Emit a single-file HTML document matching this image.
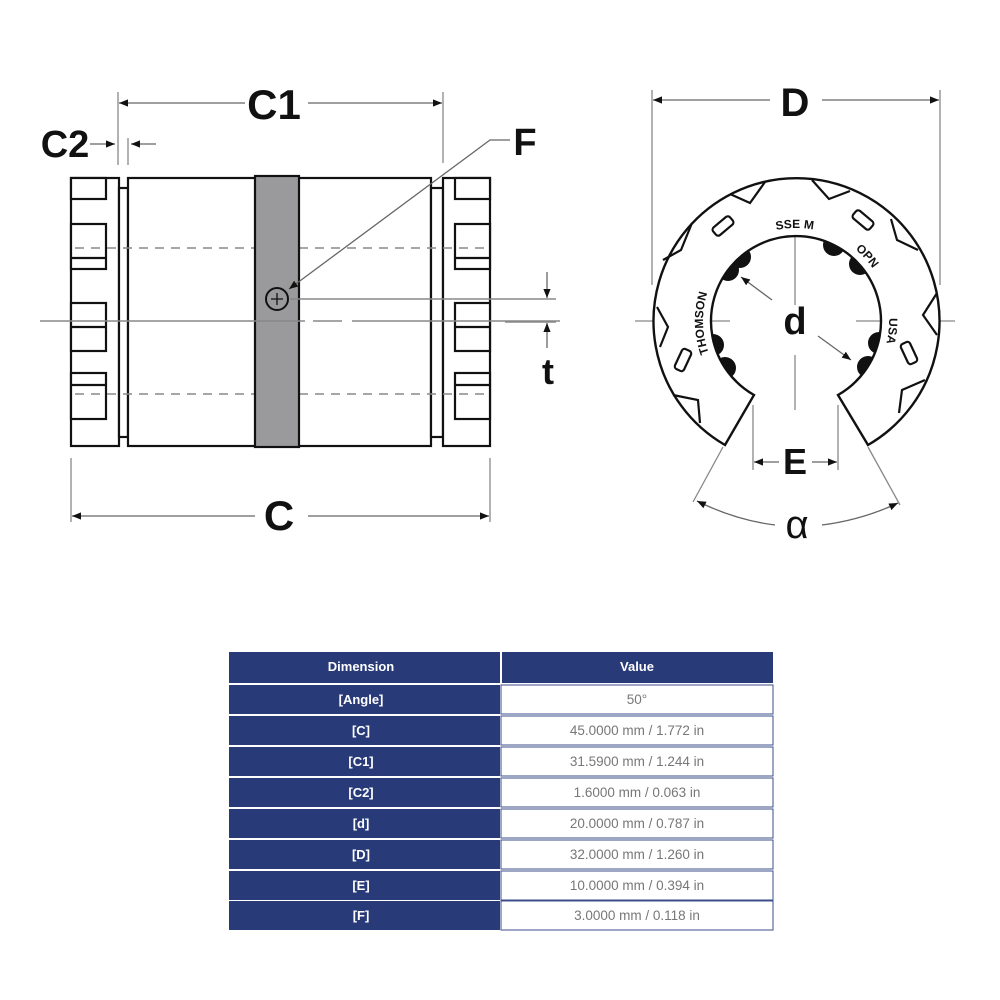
<!DOCTYPE html>
<html><head><meta charset="utf-8"><style>
html,body{margin:0;padding:0;background:#fff;}
svg{display:block}
.lbl{font-family:"Liberation Sans Narrow","Liberation Sans",sans-serif;font-weight:bold;fill:#111;}
.th{font-family:"Liberation Sans",sans-serif;font-size:13px;font-weight:bold;fill:#fff;text-anchor:middle}
.tv{font-family:"Liberation Sans",sans-serif;font-size:13.5px;fill:#777;text-anchor:middle}
</style></head><body>
<svg width="1000" height="1000" viewBox="0 0 1000 1000" xmlns="http://www.w3.org/2000/svg">
<defs>
<marker id="ar" viewBox="0 0 10 10" refX="10" refY="5" markerWidth="9" markerHeight="9" markerUnits="userSpaceOnUse" orient="auto"><path d="M0,1 L10,5 L0,9 Z" fill="#111"/></marker>
<clipPath id="bore"><circle cx="796" cy="321" r="85"/></clipPath>
<path id="tp" d="M796,414 A93,93 0 1 1 796.1,414"/>
</defs>

<!-- LEFT VIEW -->
<g stroke="#111" stroke-width="2.2" fill="#fff">
<rect x="71" y="178" width="48" height="268"/>
<rect x="119" y="188" width="9" height="249"/>
<rect x="128" y="178" width="303" height="268"/>
<rect x="431" y="188" width="12" height="249"/>
<rect x="443" y="178" width="47" height="268"/>
<rect x="71" y="178" width="35" height="21"/>
<rect x="71" y="224" width="35" height="45"/>
<rect x="71" y="303" width="35" height="48"/>
<rect x="71" y="373" width="35" height="46"/>
<line x1="71" y1="258" x2="106" y2="258"/>
<line x1="71" y1="327" x2="106" y2="327"/>
<line x1="71" y1="385" x2="106" y2="385"/>
<rect x="455" y="178" width="35" height="21"/>
<rect x="455" y="224" width="35" height="45"/>
<rect x="455" y="303" width="35" height="48"/>
<rect x="455" y="373" width="35" height="46"/>
<line x1="455" y1="258" x2="490" y2="258"/>
<line x1="455" y1="327" x2="490" y2="327"/>
<line x1="455" y1="385" x2="490" y2="385"/>
</g>
<g stroke="#888" stroke-width="1.5" stroke-dasharray="9,7" fill="none">
<line x1="75" y1="248" x2="488" y2="248"/>
<line x1="75" y1="394" x2="488" y2="394"/>
</g>
<rect x="255" y="176" width="44" height="271" fill="#9a9a9c" stroke="#111" stroke-width="2.2"/>
<line x1="40" y1="321" x2="305" y2="321" stroke="#888" stroke-width="1.5"/>
<line x1="313" y1="321" x2="342" y2="321" stroke="#888" stroke-width="1.5"/>
<line x1="352" y1="321" x2="560" y2="321" stroke="#888" stroke-width="1.5"/>
<circle cx="277" cy="299" r="11" fill="none" stroke="#111" stroke-width="2"/>
<path d="M271,299 H283 M277,293 V305" stroke="#111" stroke-width="1.3"/>
<polyline points="510,140 490,140 289,289" fill="none" stroke="#666" stroke-width="1.3" marker-end="url(#ar)"/>
<text class="lbl" x="525" y="155" font-size="38" text-anchor="middle">F</text>
<g stroke="#888" stroke-width="1.5"><line x1="290" y1="299" x2="556" y2="299"/><line x1="505" y1="322" x2="556" y2="322"/></g>
<line x1="547" y1="272" x2="547" y2="298" stroke="#666" stroke-width="1.3" marker-end="url(#ar)"/>
<line x1="547" y1="348" x2="547" y2="323" stroke="#666" stroke-width="1.3" marker-end="url(#ar)"/>
<text class="lbl" x="548" y="384" font-size="36" text-anchor="middle">t</text>
<g stroke="#888" stroke-width="1.3"><line x1="118" y1="92" x2="118" y2="165"/><line x1="443" y1="92" x2="443" y2="163"/><line x1="128" y1="138" x2="128" y2="165"/>
<line x1="71" y1="458" x2="71" y2="522"/><line x1="490" y1="458" x2="490" y2="522"/></g>
<line x1="245" y1="103" x2="119" y2="103" stroke="#666" stroke-width="1.3" marker-end="url(#ar)"/>
<line x1="308" y1="103" x2="442" y2="103" stroke="#666" stroke-width="1.3" marker-end="url(#ar)"/>
<text class="lbl" x="274" y="119" font-size="42" text-anchor="middle">C1</text>
<line x1="90" y1="144" x2="115" y2="144" stroke="#666" stroke-width="1.3" marker-end="url(#ar)"/>
<line x1="156" y1="144" x2="131" y2="144" stroke="#666" stroke-width="1.3" marker-end="url(#ar)"/>
<text class="lbl" x="65" y="157" font-size="38" text-anchor="middle">C2</text>
<line x1="255" y1="516" x2="72" y2="516" stroke="#666" stroke-width="1.3" marker-end="url(#ar)"/>
<line x1="308" y1="516" x2="489" y2="516" stroke="#666" stroke-width="1.3" marker-end="url(#ar)"/>
<text class="lbl" x="279" y="530" font-size="42" text-anchor="middle">C</text>

<!-- RIGHT VIEW -->
<g stroke="#888" stroke-width="1.3">
<line x1="652" y1="90" x2="652" y2="285"/><line x1="940" y1="90" x2="940" y2="285"/>
<line x1="635" y1="321" x2="730" y2="321"/><line x1="856" y1="321" x2="955" y2="321"/>
<line x1="795" y1="225" x2="795" y2="305"/><line x1="795" y1="355" x2="795" y2="410"/>
<line x1="753" y1="405" x2="753" y2="470"/><line x1="838" y1="405" x2="838" y2="470"/>
<line x1="723" y1="447" x2="693" y2="502"/><line x1="868" y1="447" x2="900" y2="505"/>
</g>
<line x1="770" y1="100" x2="653" y2="100" stroke="#666" stroke-width="1.3" marker-end="url(#ar)"/>
<line x1="822" y1="100" x2="939" y2="100" stroke="#666" stroke-width="1.3" marker-end="url(#ar)"/>
<text class="lbl" x="795" y="116" font-size="40" text-anchor="middle">D</text>
<path d="M775,525 Q735,520 697,501" fill="none" stroke="#666" stroke-width="1.3" marker-end="url(#ar)"/>
<path d="M822,525 Q862,520 898,503" fill="none" stroke="#666" stroke-width="1.3" marker-end="url(#ar)"/>
<text x="797" y="538" font-family="Liberation Sans,sans-serif" font-size="40" text-anchor="middle" fill="#111">α</text>
<line x1="779" y1="462" x2="754" y2="462" stroke="#666" stroke-width="1.3" marker-end="url(#ar)"/>
<line x1="812" y1="462" x2="837" y2="462" stroke="#666" stroke-width="1.3" marker-end="url(#ar)"/>
<text class="lbl" x="795" y="474" font-size="36" text-anchor="middle">E</text>

<path d="M725,445 A143,143 0 1 1 868,445 L838,395 A85,85 0 1 0 754,395 Z" fill="#fff" stroke="#111" stroke-width="2.4"/>
<g clip-path="url(#bore)" fill="#111">
<circle cx="740" cy="257" r="11"/><circle cx="728" cy="270" r="11"/>
<circle cx="713" cy="345" r="11"/><circle cx="725" cy="368" r="11"/>
<circle cx="834" cy="245" r="11"/><circle cx="860" cy="264" r="11"/>
<circle cx="879" cy="343" r="11"/><circle cx="868" cy="367" r="11"/>
</g>
<g fill="none" stroke="#111" stroke-width="2.2">
<polyline points="765,182 750,203 730,194"/>
<polyline points="812,180 829,199 850,191"/>
<polyline points="891,219 897,240 918,250"/>
<polyline points="937,293 923,315 937,335"/>
<polyline points="925,380 902,390 899,413"/>
<polyline points="692,223 681,250 663,260"/>
<polyline points="657,307 668,327 660,347"/>
<polyline points="673,395 698,400 700,423"/>
<rect x="712" y="221" width="22" height="10" rx="3" transform="rotate(-40 723 226)"/>
<rect x="852" y="215" width="22" height="10" rx="3" transform="rotate(40 863 220)"/>
<rect x="672" y="355" width="22" height="10" rx="3" transform="rotate(-65 683 360)"/>
<rect x="898" y="348" width="22" height="10" rx="3" transform="rotate(65 909 353)"/>
</g>
<text font-family="Liberation Sans,sans-serif" font-weight="bold" font-size="12" fill="#111"><textPath href="#tp" startOffset="113">THOMSON</textPath></text>
<text font-family="Liberation Sans,sans-serif" font-weight="bold" font-size="12" fill="#111"><textPath href="#tp" startOffset="272">SSE M</textPath></text>
<text font-family="Liberation Sans,sans-serif" font-weight="bold" font-size="12" fill="#111"><textPath href="#tp" startOffset="356">OPN</textPath></text>
<text font-family="Liberation Sans,sans-serif" font-weight="bold" font-size="12" fill="#111"><textPath href="#tp" startOffset="435">USA</textPath></text>
<line x1="772" y1="300" x2="741" y2="277" stroke="#666" stroke-width="1.3" marker-end="url(#ar)"/>
<line x1="818" y1="336" x2="851" y2="360" stroke="#666" stroke-width="1.3" marker-end="url(#ar)"/>
<text class="lbl" x="795" y="334" font-size="38" text-anchor="middle">d</text>

<!-- TABLE -->
<rect x="229" y="652" width="271" height="31" fill="#283a78"/>
<rect x="502" y="652" width="271" height="31" fill="#283a78"/>
<text class="th" x="361" y="671">Dimension</text>
<text class="th" x="637" y="671">Value</text>
<g font-family="Liberation Sans,sans-serif">
<rect x="229" y="685" width="271" height="29" fill="#283a78"/><rect x="501" y="685" width="272" height="29" fill="#fff" stroke="#3b4d88" stroke-width="1"/>
<text class="th" x="361" y="704">[Angle]</text><text class="tv" x="637" y="704">50°</text>
<rect x="229" y="716" width="271" height="29" fill="#283a78"/><rect x="501" y="716" width="272" height="29" fill="#fff" stroke="#3b4d88" stroke-width="1"/>
<text class="th" x="361" y="735">[C]</text><text class="tv" x="637" y="735">45.0000 mm / 1.772 in</text>
<rect x="229" y="747" width="271" height="29" fill="#283a78"/><rect x="501" y="747" width="272" height="29" fill="#fff" stroke="#3b4d88" stroke-width="1"/>
<text class="th" x="361" y="766">[C1]</text><text class="tv" x="637" y="766">31.5900 mm / 1.244 in</text>
<rect x="229" y="778" width="271" height="29" fill="#283a78"/><rect x="501" y="778" width="272" height="29" fill="#fff" stroke="#3b4d88" stroke-width="1"/>
<text class="th" x="361" y="797">[C2]</text><text class="tv" x="637" y="797">1.6000 mm / 0.063 in</text>
<rect x="229" y="809" width="271" height="29" fill="#283a78"/><rect x="501" y="809" width="272" height="29" fill="#fff" stroke="#3b4d88" stroke-width="1"/>
<text class="th" x="361" y="828">[d]</text><text class="tv" x="637" y="828">20.0000 mm / 0.787 in</text>
<rect x="229" y="840" width="271" height="29" fill="#283a78"/><rect x="501" y="840" width="272" height="29" fill="#fff" stroke="#3b4d88" stroke-width="1"/>
<text class="th" x="361" y="859">[D]</text><text class="tv" x="637" y="859">32.0000 mm / 1.260 in</text>
<rect x="229" y="871" width="271" height="29" fill="#283a78"/><rect x="501" y="871" width="272" height="29" fill="#fff" stroke="#3b4d88" stroke-width="1"/>
<text class="th" x="361" y="890">[E]</text><text class="tv" x="637" y="890">10.0000 mm / 0.394 in</text>
<rect x="229" y="901" width="271" height="29" fill="#283a78"/><rect x="501" y="901" width="272" height="29" fill="#fff" stroke="#3b4d88" stroke-width="1"/>
<text class="th" x="361" y="920">[F]</text><text class="tv" x="637" y="920">3.0000 mm / 0.118 in</text>
</g>
</svg>
</body></html>
